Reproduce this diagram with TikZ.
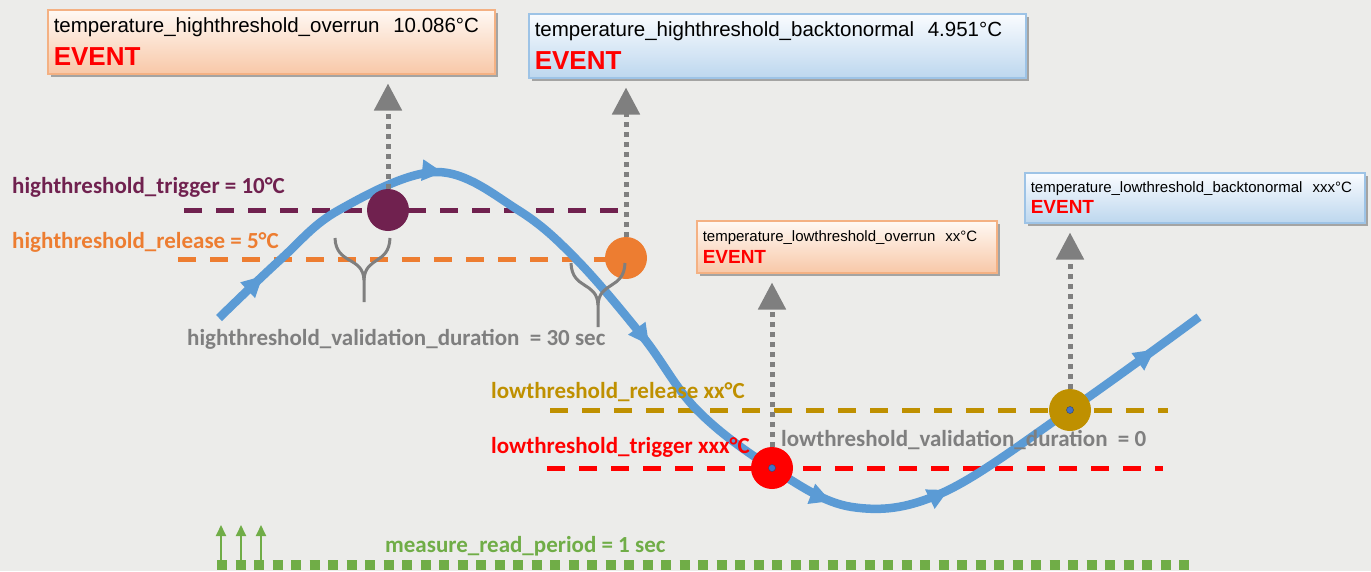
\documentclass[tikz,border=0pt]{standalone}
\usepackage{fontspec}
\setmainfont{Liberation Sans}
\newfontfamily\calibri{Carlito}
\usetikzlibrary{arrows.meta}
\usetikzlibrary{decorations.markings}
\usetikzlibrary{shadows}

\definecolor{bgcol}{RGB}{236,236,234}
\definecolor{trigcol}{RGB}{112,33,79}
\definecolor{relcol}{RGB}{237,125,49}
\definecolor{lowrelcol}{RGB}{191,144,0}
\definecolor{lowtrigcol}{RGB}{255,0,0}
\definecolor{durcol}{RGB}{127,127,127}
\definecolor{readcol}{RGB}{112,173,71}
\definecolor{curvecol}{RGB}{91,155,213}
\definecolor{dotcol}{RGB}{68,114,196}
\definecolor{ovtop}{RGB}{255,249,244}
\definecolor{ovbot}{RGB}{248,200,168}
\definecolor{ovline}{RGB}{244,177,131}
\definecolor{bntop}{RGB}{250,252,255}
\definecolor{bnbot}{RGB}{189,215,238}
\definecolor{bnline}{RGB}{157,195,230}

\tikzset{
	evbox/.style={rectangle,line width=1.5pt,align=left,anchor=north west,inner xsep=6pt,inner ysep=0pt,
		drop shadow={shadow xshift=3pt,shadow yshift=-3pt,fill=black,opacity=0.3}},
	overrun/.style={evbox,draw=ovline,top color=ovtop,bottom color=ovbot},
	backnormal/.style={evbox,draw=bnline,top color=bntop,bottom color=bnbot},
	evarrow/.style={draw=durcol,line width=5pt,dash pattern=on 5pt off 5pt,shorten >=9pt,
		-{Triangle[length=27pt,width=27pt]}},
	thrline/.style={line width=5pt,dash pattern=on 18pt off 14pt},
	crosspt/.style={circle,inner sep=0pt,minimum size=42pt},
	thrlabel/.style={anchor=base west,inner sep=0pt,font=\calibri\bfseries\fontsize{23}{28}\selectfont},
	valbrace/.style={draw=durcol,line width=3pt}
}

\begin{document}
\begin{tikzpicture}[x=1pt,y=-1pt]
	\fill[bgcol] (0,0) rectangle (1371,571);
	\useasboundingbox (0,0) rectangle (1371,571);

	%THRESHOLD LINES
	\draw[thrline,draw=trigcol] (184,210)--(626,210);
	\draw[thrline,draw=relcol] (178,259)--(606,259);
	\draw[thrline,draw=lowrelcol] (550,410)--(1168,410);
	\draw[thrline,draw=lowtrigcol] (547,468)--(1163,468);

	%TEMPERATURE CURVE
	\draw[draw=curvecol,line width=8.5pt,line join=round,postaction={decorate},
		decoration={markings,
			mark=at position 0.05 with {\arrow[curvecol]{Triangle[length=21pt,width=20pt]}},
			mark=at position 0.225 with {\arrow[curvecol]{Triangle[length=21pt,width=20pt]}},
			mark=at position 0.45 with {\arrow[curvecol]{Triangle[length=21pt,width=20pt]}},
			mark=at position 0.65 with {\arrow[curvecol]{Triangle[length=21pt,width=20pt]}},
			mark=at position 0.75 with {\arrow[curvecol]{Triangle[length=21pt,width=20pt]}},
			mark=at position 0.955 with {\arrow[curvecol]{Triangle[length=21pt,width=20pt]}}}]
		plot[smooth,tension=0.6] coordinates {(219,318) (281,259) (339,210) (437,172) (518,210) (576,259)
			(643,337) (697,410) (772,468) (852,507) (942,493) (1070,410) (1199,317)};

	%CROSSING POINTS
	\node[crosspt,fill=trigcol] (trig) at (388,210) {};
	\node[crosspt,fill=relcol] (rel) at (626,258) {};
	\node[crosspt,fill=lowtrigcol] (lowtrig) at (772,468) {};
	\node[crosspt,fill=lowrelcol] (lowrel) at (1070,410) {};
	\fill[dotcol,draw=dotcol!60!black,thin] (lowtrig) circle (3.5);
	\fill[dotcol,draw=dotcol!60!black,thin] (lowrel) circle (3.5);

	%EVENTS
	\node[overrun,text width=435pt,minimum height=64pt,font=\fontsize{20.5}{33}\selectfont] (hov) at (47,9)
		{temperature\_highthreshold\_overrun\ \ 10.086°C\\{\color{red}\fontsize{26}{33}\selectfont\bfseries EVENT}};
	\node[backnormal,text width=485pt,minimum height=64pt,font=\fontsize{20.5}{33}\selectfont] (hbn) at (528,13)
		{temperature\_highthreshold\_backtonormal\ \ 4.951°C\\{\color{red}\fontsize{26}{33}\selectfont\bfseries EVENT}};
	\node[overrun,text width=288pt,minimum height=52pt,font=\fontsize{15}{22}\selectfont] (lov) at (696,220)
		{temperature\_lowthreshold\_overrun\ \ xx°C\\{\color{red}\fontsize{19}{22}\selectfont\bfseries EVENT}};
	\node[backnormal,text width=328pt,minimum height=50pt,font=\fontsize{15}{21}\selectfont] (lbn) at (1024,172)
		{temperature\_lowthreshold\_backtonormal\ \ xxx°C\\{\color{red}\fontsize{19}{21}\selectfont\bfseries EVENT}};
	%
	\draw[evarrow] (trig)--(trig |- hov.south);
	\draw[evarrow] (rel)--(rel |- hbn.south);
	\draw[evarrow] (lowtrig)--(lowtrig |- lov.south);
	\draw[evarrow] (lowrel)--(lowrel |- lbn.south);

	%VALIDATION BRACES
	\draw[valbrace] (335,238) .. controls (336,265) and (363,256) .. (364,280)--(364,302);
	\draw[valbrace] (390,238) .. controls (389,265) and (365,256) .. (364,280);
	\draw[valbrace] (571,263) .. controls (572,290) and (597,281) .. (598,305)--(598,327);
	\draw[valbrace] (625,263) .. controls (624,290) and (599,281) .. (598,305);

	%LABELS
	\node[thrlabel,text=trigcol] (ltrig) at (12,193) {highthreshold\_trigger = 10°C};
	\node[thrlabel,text=relcol] (lrel) at (12,248) {highthreshold\_release = 5°C};
	\node[thrlabel,text=durcol] (lval) at (187,345) {highthreshold\_validation\_duration\ \ = 30 sec};
	\node[thrlabel,text=lowrelcol] (llrel) at (491,398) {lowthreshold\_release xx°C};
	\node[thrlabel,text=lowtrigcol] (lltrig) at (491,453) {lowthreshold\_trigger xxx°C};
	\node[thrlabel,text=durcol] (llval) at (781,446) {lowthreshold\_validation\_duration\ \ = 0};

	%READ PERIOD
	\draw[readcol,line width=10pt,dash pattern=on 10pt off 8.5pt] (217,565)--(1190,565);
	\foreach \x in {221,241,261} \draw[readcol,line width=2pt,-{Triangle[length=11pt,width=10pt]}] (\x,560)--(\x,525);
	\node[thrlabel,text=readcol] (lread) at (385,552) {measure\_read\_period = 1 sec};
\end{tikzpicture}
\end{document}
